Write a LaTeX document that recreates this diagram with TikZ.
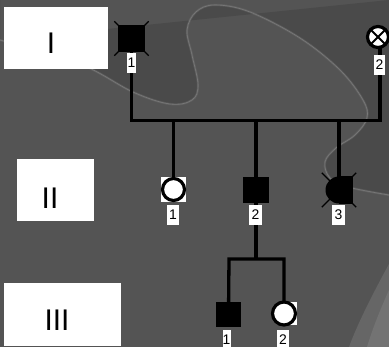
\documentclass[tikz,border=0pt]{standalone}
\usepackage{fontspec}
\setmainfont{Liberation Sans}
\pgfdeclarelayer{back}
\pgfdeclarelayer{lines}
\pgfsetlayers{back,lines,main}
\begin{document}
\begin{tikzpicture}[x=1bp,y=-1bp,
  link/.style={line width=3.3bp, black},
  cross/.style={line width=1.3bp, black},
  malebox/.style={rectangle, fill=black, minimum size=26bp, inner sep=0pt},
  femring/.style={circle, fill=white, draw=black, line width=3.2bp, minimum size=21bp, inner sep=0pt},
  numlab/.style={fill=white, inner sep=0pt, minimum height=20bp, minimum width=11bp,
    font=\fontsize{14}{14}\selectfont},
  genbox/.style={fill=white, inner sep=0pt},
  genlab/.style={inner sep=0pt, font=\fontsize{30}{30}\selectfont}
]
\useasboundingbox (0,0) rectangle (389,347);

% ---- backdrop: dark grey with a pale swoosh edge ----
\def\swoosh{(0,40) (80,64) (133,92) (170,104) (192,100) (198,85) (192,55)
      (187,30) (196,12) (215,5) (250,12) (300,38) (340,70) (363,100) (367,118) (355,135)
      (336,148) (325,162) (330,178) (348,187) (389,195)}
\begin{pgfonlayer}{back}
  \fill[black!67] (0,0) rectangle (389,347);
  \fill[black!71] (0,0) -- (0,40)
    plot[smooth, tension=0.6] coordinates {\swoosh}
    -- (389,0) -- cycle;
  \fill[black!60] (389,264) .. controls (372,295) and (357,325) .. (349,347) -- (389,347) -- cycle;
  \fill[black!55] (389,290) .. controls (380,310) and (372,330) .. (367,347) -- (389,347) -- cycle;
  \draw[black!50, line width=2.2bp, opacity=0.3]
    plot[smooth, tension=0.6] coordinates {\swoosh};
  \draw[black!52, line width=0.6bp]
    plot[smooth, tension=0.6] coordinates {\swoosh};
\end{pgfonlayer}

% ---- generation labels ----
\node[genbox, minimum width=104bp, minimum height=62bp] (gI) at (56,38) {};
\node[genlab] (gIt) at (51,43) {I};
\node[genbox, minimum width=77bp, minimum height=62bp] (gII) at (55.5,190) {};
\node[genlab] (gIIt) at (50,198) {II};
\node[genbox, minimum width=117bp, minimum height=63bp] (gIII) at (62.5,314.5) {};
\node[genlab] (gIIIt) at (57,320) {III};

% ---- generation I ----
\node[malebox, minimum size=27bp] (i1) at (131.5,38.5) {};
\begin{pgfonlayer}{lines}
  \draw[cross] ([shift={(-3.5,-3.5)}]i1.north west) -- ([shift={(3.5,3.5)}]i1.south east);
  \draw[cross] ([shift={(3.5,-3.5)}]i1.north east) -- ([shift={(-3.5,3.5)}]i1.south west);
\end{pgfonlayer}
\node[femring] (i2) at (378,37) {};
\draw[line width=1.8bp] ([shift={(-7,-7)}]i2.center) -- ([shift={(7,7)}]i2.center);
\draw[line width=1.8bp] ([shift={(7,-7)}]i2.center) -- ([shift={(-7,7)}]i2.center);

% ---- generation II ----
\fill[white] (161,177) rectangle (186,202);
\node[femring, minimum size=22bp] (ii1) at (173.5,189.5) {};
\node[malebox] (ii2) at (256,190) {};
\node[minimum size=27bp, inner sep=0pt] (ii3) at (339,190) {};
\fill[black] (ii3.center) circle[radius=13.5bp];
\fill[black] (ii3.north) rectangle (ii3.south east);
\begin{pgfonlayer}{lines}
  \draw[cross] ([shift={(-3.5,-3.5)}]ii3.north west) -- ([shift={(3.5,3.5)}]ii3.south east);
  \draw[cross] ([shift={(3.5,-3.5)}]ii3.north east) -- ([shift={(-3.5,3.5)}]ii3.south west);
\end{pgfonlayer}

% ---- generation III ----
\node[malebox, minimum size=25bp] (iii1) at (228.5,314) {};
\fill[white] (281,302) rectangle (297,325);
\node[femring, minimum size=23bp] (iii2) at (284,313.5) {};

% ---- connectors ----
\coordinate (mL) at (131.5,120.5);
\coordinate (mR) at (380,120.5);
\coordinate (c1) at (173.5,120.5);
\coordinate (c2) at (256,120.5);
\coordinate (c3) at (339,120.5);
\coordinate (sL) at (229,259);
\coordinate (sR) at (284,259);
\coordinate (sM) at (256,259);
\coordinate (i2d) at (380,45);
\begin{pgfonlayer}{lines}
  \draw[link] (i1.center) -- (mL) -- (mR) -- (i2d);
  \draw[link] (c1) -- (ii1.center);
  \draw[link] (c2) -- (ii2.center);
  \draw[link] (c3) -- (ii3.center);
  \draw[link] (ii2.center) -- (sM);
  \draw[link] (iii1.center) -- (sL) -- (sR) -- (iii2.center);
\end{pgfonlayer}

% ---- individual numbers ----
\node[numlab, minimum width=9bp] (n11) at (131.5,63) {1};
\node[numlab] (n12) at (379.5,65) {2};
\node[numlab, minimum width=12bp] (n21) at (173,215) {1};
\node[numlab, minimum width=13bp] (n22) at (255.5,215) {2};
\node[numlab, minimum width=13bp] (n23) at (338.5,215) {3};
\node[numlab, minimum width=8bp] (n31) at (226.5,340) {1};
\node[numlab, minimum width=12bp] (n32) at (283,340) {2};
\end{tikzpicture}
\end{document}
